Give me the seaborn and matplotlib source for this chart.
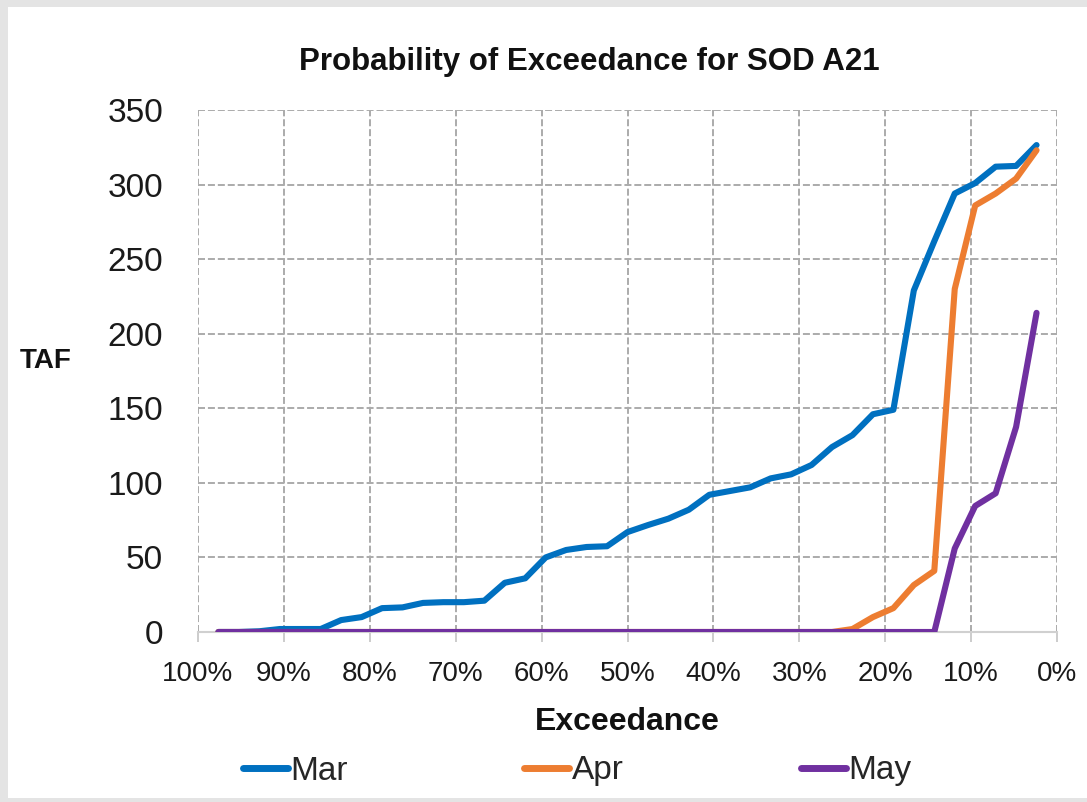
import numpy as np
import pandas as pd
import matplotlib
matplotlib.use("Agg")
import matplotlib.pyplot as plt
import seaborn as sns
from matplotlib.ticker import FuncFormatter
from matplotlib.patches import Rectangle

# ---- data (41 ranked years, Weibull plotting position i/42) ----
exceedance = [1 - i / 42 for i in range(1, 42)]
mar = [0, 0, 0.5, 2, 2, 2, 8, 10, 16, 16.5,
       19.5, 20, 20, 21, 33, 36, 50, 55, 57, 57.5,
       67, 71.7, 76, 82, 92, 94.5, 97, 103, 105.7, 112,
       124, 132, 146, 149, 229, 262, 294, 301, 312, 312.5,
       326.5]
apr = [0] * 31 + [2, 10, 16, 31.5, 41, 230, 286, 294, 304, 323]
may = [0] * 36 + [56, 84.5, 93, 137.5, 214]
months = ["Mar", "Apr", "May"]
colors = ["#0070C0", "#ED7D31", "#7030A0"]
x_ticks = [1.0, 0.9, 0.8, 0.7, 0.6, 0.5, 0.4, 0.3, 0.2, 0.1, 0.0]
y_ticks = [0, 50, 100, 150, 200, 250, 300, 350]

df = pd.DataFrame({
    "Exceedance": exceedance * 3,
    "TAF": mar + apr + may,
    "Month": [m for m, s in zip(months, [mar, apr, may]) for _ in s],
})

sns.set_theme(style="white")
plt.rcParams["font.family"] = ["Liberation Sans", "DejaVu Sans"]

fig = plt.figure(figsize=(10.87, 8.02), dpi=100)
fig.patch.set_facecolor("#e4e4e4")
fig.add_artist(Rectangle((8 / 1087, 4 / 802), 1 - 8 / 1087, 1 - 11 / 802,
                         transform=fig.transFigure, facecolor="white",
                         edgecolor="none", zorder=-10))
ax = fig.add_axes([198 / 1087, 1 - 632 / 802, (1057 - 198) / 1087, (632 - 110) / 802])
ax.set_facecolor("white")
ax.set_zorder(1)

sns.lineplot(data=df, x="Exceedance", y="TAF", hue="Month", hue_order=months,
             palette=colors, linewidth=4.4, ax=ax, legend=True, zorder=3,
             solid_capstyle="round")

ax.set_xlim(1.0, 0.0)
ax.set_ylim(0, 350)
ax.set_xticks(x_ticks)
ax.set_yticks(y_ticks)
ax.xaxis.set_major_formatter(FuncFormatter(lambda v, p: f"{v*100:.0f}%"))

grid_kw = dict(color="#ababab", lw=1.4, ls=(0, (3.6, 1.5)), zorder=1)
for y in y_ticks[1:]:
    ax.axhline(y, **grid_kw)
for x in x_ticks:
    ax.axvline(x, **grid_kw)
for s in ["top", "right", "left"]:
    ax.spines[s].set_visible(False)
ax.spines["bottom"].set_color("#d0d0d0")
ax.spines["bottom"].set_linewidth(1.5)

ax.tick_params(axis="x", length=7, width=1.3, color="#c8c8c8", pad=14,
               labelsize=20, labelcolor="#1a1a1a", bottom=True)
ax.tick_params(axis="y", length=0, pad=25, labelsize=24, labelcolor="#1a1a1a")

ax.set_xlabel("Exceedance", fontsize=23, fontweight="bold",
              labelpad=14, color="#111111")
ax.set_ylabel("")
fig.text(20 / 1087, 1 - 361 / 802, "TAF", fontsize=20, fontweight="bold",
         ha="left", va="center", color="#111111")
fig.text(589 / 1087, 1 - 62 / 802, "Probability of Exceedance for SOD A21",
         fontsize=22.5, fontweight="bold", ha="center",
         va="center", color="#111111")

leg = ax.legend(loc="center", bbox_to_anchor=(577 / 1087, 1 - 771 / 802),
                bbox_transform=fig.transFigure, ncol=3, frameon=False,
                handlelength=1.35, handletextpad=0.08, columnspacing=5.3,
                prop={"size": 24})
for line in leg.get_lines():
    line.set_linewidth(5)
    line.set_solid_capstyle("round")

fig.savefig("out.png", dpi=100, facecolor=fig.get_facecolor())
